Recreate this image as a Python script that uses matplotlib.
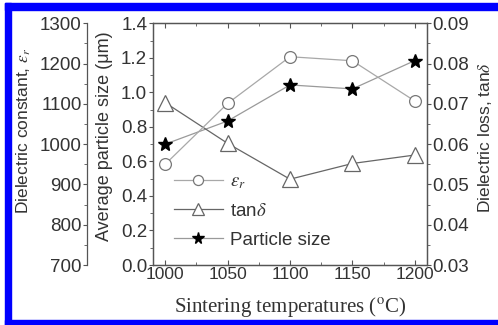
import matplotlib
matplotlib.use('Agg')
import matplotlib.pyplot as plt
from matplotlib.patches import Rectangle
from matplotlib.ticker import MultipleLocator

plt.rcParams['font.family'] = ['Liberation Sans', 'DejaVu Sans']
plt.rcParams['mathtext.fontset'] = 'stix'

# data
temps = [1000, 1050, 1100, 1150, 1200]
eps_r = [950, 1101, 1217, 1207, 1107]
tan_d = [0.0703, 0.0602, 0.0513, 0.0552, 0.0573]
psize = [0.70, 0.834, 1.043, 1.02, 1.184]

txt = '#333333'
spine_c = '#555555'

fig = plt.figure(figsize=(4.98, 3.25), dpi=100)
W, H = 498, 325
ax = fig.add_axes([152.7 / W, 1 - 265 / H, 274.6 / W, 241.7 / H])
ax_t = ax.twinx()
ax_e = ax.twinx()

# particle size (main axis, left)
lp, = ax.plot(temps, psize, '-', color='#9a9a9a', lw=0.9, marker='*',
              ms=10, mfc='black', mec='black', label='Particle size')
ax.set_xlim(990, 1210)
ax.set_ylim(0, 1.4)
ax.xaxis.set_major_locator(MultipleLocator(50))
ax.xaxis.set_minor_locator(MultipleLocator(25))
ax.yaxis.set_major_locator(MultipleLocator(0.2))
ax.yaxis.set_minor_locator(MultipleLocator(0.1))
ax.yaxis.set_major_formatter(plt.FuncFormatter(lambda v, p: f'{v:.1f}'))
ax.tick_params(axis='x', which='both', direction='in', top=True, labelsize=12.5,
               colors=spine_c, labelcolor=txt, pad=1.5)
ax.tick_params(axis='x', which='major', length=3.5)
ax.tick_params(axis='x', which='minor', length=2)
ax.tick_params(axis='y', which='both', direction='out', labelsize=13.5,
               colors=spine_c, labelcolor=txt, pad=1)
ax.tick_params(axis='y', which='major', length=3)
ax.tick_params(axis='y', which='minor', length=2)
ax.set_xlabel('Sintering temperatures ($^{\\rm o}$C)', family='Liberation Serif',
              fontsize=15, color=txt)
ax.xaxis.set_label_coords(0.5, -0.174)
ax.xaxis.label.set_va('center')
ax.set_ylabel('Average particle size (\u03bcm)', fontsize=13, color=txt)
ax.yaxis.set_label_coords(-0.174, 0.532)
ax.yaxis.label.set_va('center')

# tan delta (right axis)
lt, = ax_t.plot(temps, tan_d, '-', color='#666666', lw=0.9, marker='^',
                ms=11, mfc='white', mec='#666666', mew=0.9, label='tan$\\delta$')
ax_t.set_ylim(0.03, 0.09)
ax_t.yaxis.set_major_locator(MultipleLocator(0.01))
ax_t.yaxis.set_minor_locator(MultipleLocator(0.005))
ax_t.yaxis.set_major_formatter(plt.FuncFormatter(lambda v, p: f'{v:.2f}'))
ax_t.tick_params(axis='y', which='both', direction='out', labelsize=13.5,
                 colors=spine_c, labelcolor=txt, pad=0.5)
ax_t.tick_params(axis='y', which='major', length=3)
ax_t.tick_params(axis='y', which='minor', length=2)
ax_t.set_ylabel('Dielectric loss, tan$\\delta$', fontsize=12.5, color=txt)
ax_t.yaxis.set_label_coords(1.21, 0.527)
ax_t.yaxis.label.set_va('center')

# dielectric constant (offset left axis)
le, = ax_e.plot(temps, eps_r, '-', color='#a8a8a8', lw=0.9, marker='o',
                ms=8.5, mfc='white', mec='#777777', mew=0.9, label='$\\varepsilon_r$')
ax_e.set_ylim(700, 1300)
ax_e.yaxis.set_major_locator(MultipleLocator(100))
ax_e.yaxis.set_minor_locator(MultipleLocator(50))
ax_e.yaxis.set_ticks_position('left')
ax_e.yaxis.set_label_position('left')
ax_e.spines['left'].set_position(('axes', -0.239))
ax_e.spines['left'].set_visible(True)
for s in ('right', 'top', 'bottom'):
    ax_e.spines[s].set_visible(False)
ax_e.tick_params(axis='y', which='both', direction='out', labelsize=13.5,
                 colors=spine_c, labelcolor=txt, pad=1)
ax_e.tick_params(axis='y', which='major', length=3)
ax_e.tick_params(axis='y', which='minor', length=2)
ax_e.set_ylabel('Dielectric constant, $\\varepsilon_r$', fontsize=12.5, color=txt)
ax_e.yaxis.set_label_coords(-0.469, 0.554)
ax_e.yaxis.label.set_va('center')

for a in (ax, ax_t, ax_e):
    for s in a.spines.values():
        s.set_color(spine_c)
        s.set_linewidth(0.9)

leg = ax_e.legend(handles=[le, lt, lp], loc='upper left', bbox_to_anchor=(0.05, 0.41),
                  frameon=False, fontsize=13.5, handlelength=2.6, handletextpad=0.4,
                  labelspacing=0.62, borderaxespad=0, markerscale=0.85)
for t in leg.get_texts():
    t.set_color(txt)

# blue frame (left, top, bottom)
blue = '#0000ff'
fig.patches.append(Rectangle((5 / W, 0), 6 / W, 1 - 3 / H, transform=fig.transFigure,
                             color=blue, zorder=10))
fig.patches.append(Rectangle((5 / W, 1 - 10 / H), 1, 7 / H, transform=fig.transFigure,
                             color=blue, zorder=10))
fig.patches.append(Rectangle((5 / W, 0), 1, 5 / H, transform=fig.transFigure,
                             color=blue, zorder=10))

fig.savefig('out.png', dpi=100, facecolor='white')
